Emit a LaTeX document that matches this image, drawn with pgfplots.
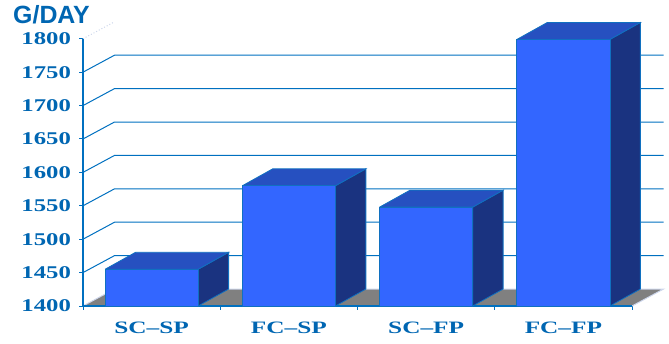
\documentclass[border=0pt]{standalone}
\usepackage{pgfplots}
\pgfplotsset{compat=1.18}
\usepackage{fontspec}
\setmainfont{Liberation Serif}
\newfontfamily\arialfont{Liberation Sans}
\definecolor{txtblue}{RGB}{0,102,178}
\definecolor{gridblue}{RGB}{0,112,192}
\definecolor{barfront}{RGB}{51,102,255}
\definecolor{bartop}{RGB}{38,80,192}
\definecolor{barside}{RGB}{26,51,128}
\definecolor{baredge}{RGB}{16,112,192}
\definecolor{floorgray}{RGB}{128,128,128}
\definecolor{floorline}{RGB}{205,214,235}
\begin{document}
\begin{tikzpicture}
\useasboundingbox (0bp,0bp) rectangle (669bp,344bp);
\node[anchor=base west, inner sep=0pt, text=txtblue,
      font=\arialfont\bfseries\fontsize{25}{25}\selectfont] at (13bp,320bp) {G/DAY};
\begin{axis}[
  at={(83bp,38bp)}, anchor=south west,
  scale only axis, width=580.5bp, height=284.2bp,
  xmin=-0.5, xmax=3.7295, ymin=1400, ymax=1825.4,
  axis line style={draw=none},
  tick align=outside,
  xtick pos=left, ytick pos=left,
  ytick={1400,1450,1500,1550,1600,1650,1700,1750,1800},
  yticklabels={1400,1450,1500,1550,1600,1650,1700,1750,1800},
  xtick={-0.5,0.5,1.5,2.5,3.5},
  x tick label as interval,
  xticklabels={SC–SP,FC–SP,SC–FP,FC–FP},
  major tick length=3.5bp,
  every tick/.style={gridblue, line width=1bp},
  yticklabel style={font=\bfseries\fontsize{18}{18}\selectfont, text=txtblue, xscale=1.38, anchor=east, inner sep=0pt, xshift=-6bp},
  xticklabel style={font=\bfseries\fontsize{17.5}{17.5}\selectfont, text=txtblue, xscale=1.45, anchor=north, inner sep=0pt, yshift=-12bp},
  clip=false,
]
% back grid lines (diagonal on the side + horizontal on back wall)
\addplot[gridblue, line width=1bp] coordinates {(-0.5,1450) (-0.2705,1475.4) (3.7295,1475.4)};
\addplot[gridblue, line width=1bp] coordinates {(-0.5,1500) (-0.2705,1525.4) (3.7295,1525.4)};
\addplot[gridblue, line width=1bp] coordinates {(-0.5,1550) (-0.2705,1575.4) (3.7295,1575.4)};
\addplot[gridblue, line width=1bp] coordinates {(-0.5,1600) (-0.2705,1625.4) (3.7295,1625.4)};
\addplot[gridblue, line width=1bp] coordinates {(-0.5,1650) (-0.2705,1675.4) (3.7295,1675.4)};
\addplot[gridblue, line width=1bp] coordinates {(-0.5,1700) (-0.2705,1725.4) (3.7295,1725.4)};
\addplot[gridblue, line width=1bp] coordinates {(-0.5,1750) (-0.2705,1775.4) (3.7295,1775.4)};
\addplot[floorline, dotted, line width=1bp] coordinates {(-0.5,1800) (-0.2705,1825.4)};
% floor
\addplot[fill=floorgray, draw=none] coordinates {(-0.5,1400) (3.5,1400) (3.7295,1425.4) (-0.2705,1425.4) (-0.5,1400)};
\addplot[floorline, line width=1bp] coordinates {(-0.5,1400) (-0.2705,1425.4) (3.7295,1425.4) (3.5,1400)};
% front axis lines
\addplot[gridblue, line width=1.2bp] coordinates {(-0.5,1800) (-0.5,1400) (3.5,1400)};
% bars: front, side, top
% SC-SP 1455
\addplot[fill=barside, draw=baredge, line width=0.8bp] coordinates {(0.339,1400) (0.561,1425.4) (0.561,1480.4) (0.339,1455) (0.339,1400)};
\addplot[fill=bartop, draw=baredge, line width=0.8bp] coordinates {(-0.339,1455) (0.339,1455) (0.561,1480.4) (-0.117,1480.4) (-0.339,1455)};
\addplot[fill=barfront, draw=baredge, line width=0.8bp] coordinates {(-0.339,1400) (0.339,1400) (0.339,1455) (-0.339,1455) (-0.339,1400)};
% FC-SP 1580
\addplot[fill=barside, draw=baredge, line width=0.8bp] coordinates {(1.339,1400) (1.561,1425.4) (1.561,1605.4) (1.339,1580) (1.339,1400)};
\addplot[fill=bartop, draw=baredge, line width=0.8bp] coordinates {(0.661,1580) (1.339,1580) (1.561,1605.4) (0.883,1605.4) (0.661,1580)};
\addplot[fill=barfront, draw=baredge, line width=0.8bp] coordinates {(0.661,1400) (1.339,1400) (1.339,1580) (0.661,1580) (0.661,1400)};
% SC-FP 1548
\addplot[fill=barside, draw=baredge, line width=0.8bp] coordinates {(2.339,1400) (2.561,1425.4) (2.561,1573.4) (2.339,1548) (2.339,1400)};
\addplot[fill=bartop, draw=baredge, line width=0.8bp] coordinates {(1.661,1548) (2.339,1548) (2.561,1573.4) (1.883,1573.4) (1.661,1548)};
\addplot[fill=barfront, draw=baredge, line width=0.8bp] coordinates {(1.661,1400) (2.339,1400) (2.339,1548) (1.661,1548) (1.661,1400)};
% FC-FP 1799
\addplot[fill=barside, draw=baredge, line width=0.8bp] coordinates {(3.339,1400) (3.561,1425.4) (3.561,1824.4) (3.339,1799) (3.339,1400)};
\addplot[fill=bartop, draw=baredge, line width=0.8bp] coordinates {(2.661,1799) (3.339,1799) (3.561,1824.4) (2.883,1824.4) (2.661,1799)};
\addplot[fill=barfront, draw=baredge, line width=0.8bp] coordinates {(2.661,1400) (3.339,1400) (3.339,1799) (2.661,1799) (2.661,1400)};
\end{axis}
\end{tikzpicture}
\end{document}
